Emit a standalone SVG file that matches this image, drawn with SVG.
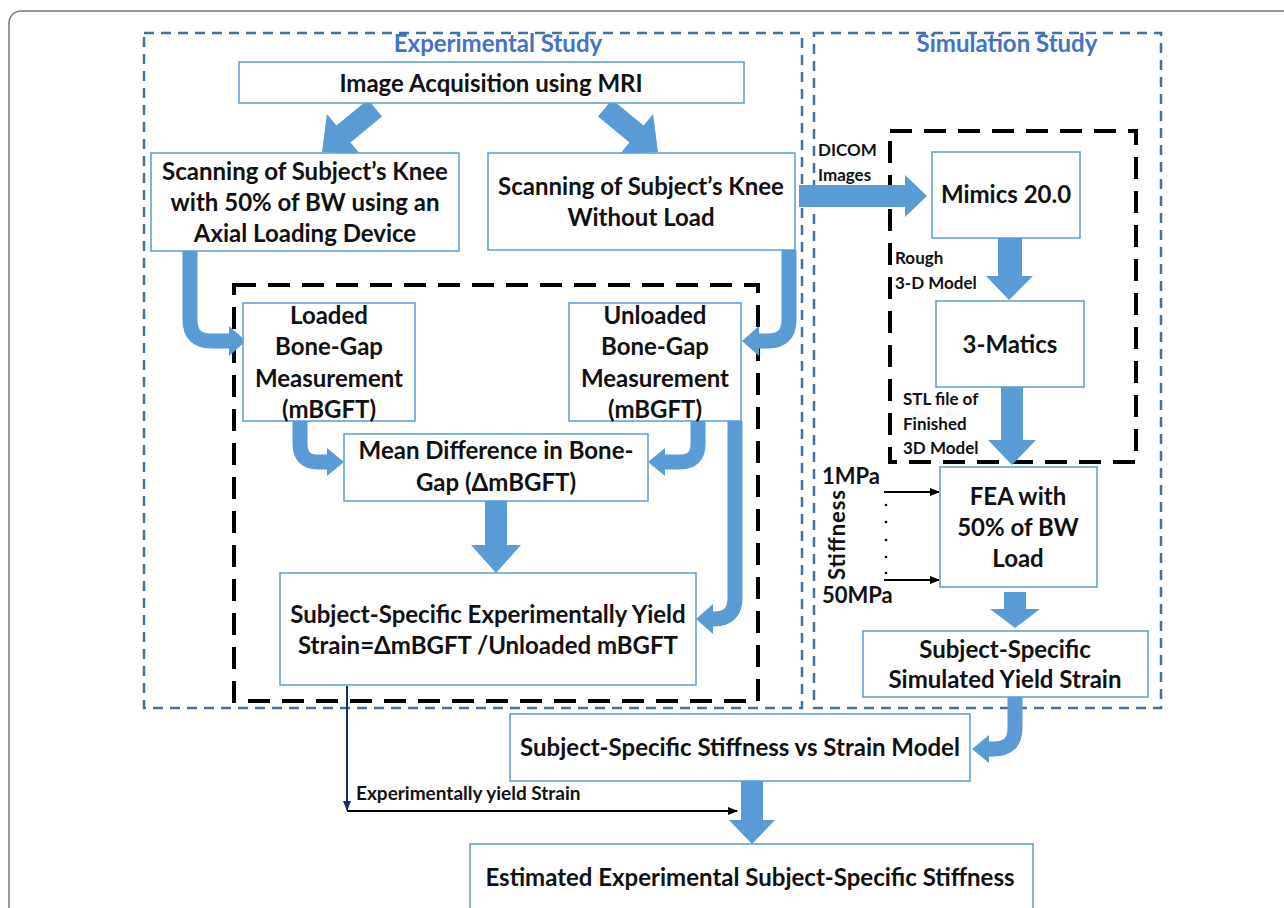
<svg xmlns="http://www.w3.org/2000/svg" width="1284" height="908" viewBox="0 0 1284 908">
<defs>
<style>
.box{fill:#fff;stroke:#5b9bd5;stroke-width:1.5}
.t{font-family:Lato,"Liberation Sans",sans-serif;font-weight:700;font-size:24px;fill:#111;text-anchor:middle}
.s{font-family:Lato,"Liberation Sans",sans-serif;font-weight:700;font-size:17px;fill:#111}
.big{font-size:22px}
.lab{font-size:19px}
.title{font-family:Lato,"Liberation Sans",sans-serif;font-weight:700;font-size:24px;fill:#4472c4;text-anchor:middle}
.bd{fill:none;stroke:#41719c;stroke-width:2.5;stroke-dasharray:10 7}
.kd{fill:none;stroke:#000;stroke-width:4;stroke-dasharray:22 12}
.ar{fill:#5b9bd5}
.cv{fill:none;stroke:#5b9bd5;stroke-width:15}
.thin{fill:none;stroke:#000;stroke-width:2}
</style>
<marker id="ah" markerWidth="10" markerHeight="8" refX="9" refY="4" orient="auto" markerUnits="userSpaceOnUse">
<path d="M0,0 L10,4 L0,8 z" fill="#000"/>
</marker>
<marker id="ahn" markerWidth="10" markerHeight="8" refX="9" refY="4" orient="auto" markerUnits="userSpaceOnUse">
<path d="M0,0 L10,4 L0,8 z" fill="#1a2a6c"/>
</marker>
</defs>
<rect x="0" y="0" width="1284" height="908" fill="#fff"/>
<rect x="9" y="11" width="1300" height="930" rx="12" fill="none" stroke="#777" stroke-width="1.5"/>

<g id="frames">
<rect class="bd" x="144" y="33" width="658" height="675"/>
<rect class="bd" x="814" y="33" width="347" height="675"/>
<rect class="kd" x="234" y="285" width="524" height="416"/>
<rect class="kd" x="890" y="131" width="246" height="331"/>
<text class="title" x="498" y="52">Experimental Study</text>
<text class="title" x="1007" y="52">Simulation Study</text>
</g>

<g id="connectors">
<polygon class="ar" points="368,99.5 336.5,125.6 326.9,114.1 322,152 360.1,154.1 350.5,142.6 382,116.5"/>
<polygon class="ar" points="612,99.5 643.5,125.6 653.1,114.1 658,152 619.9,154.1 629.5,142.6 598,116.5"/>
<path class="cv" d="M190,251 V320 Q190,341 211,341 H230"/>
<polygon class="ar" points="229,326 246,341 229,356"/>
<path class="cv" d="M789,250 V320 Q789,341 768,341 H758"/>
<polygon class="ar" points="759,326 742,341 759,356"/>
<path class="cv" d="M300,421 V444 Q300,462 318,462 H328"/>
<polygon class="ar" points="327,448 344,462 327,476"/>
<path class="cv" d="M698,421 V444 Q698,462 680,462 H664"/>
<polygon class="ar" points="665,448 648,462 665,476"/>
<path class="cv" d="M735,421 V598 Q735,619 714,619 H712"/>
<polygon class="ar" points="713,604 696,619 713,634"/>
<path class="cv" d="M1015,697 V728 Q1015,749 994,749 H988"/>
<polygon class="ar" points="989,735 972,749 989,763"/>
<polygon class="ar" points="485,501 507,501 507,545 521,545 496,573 471,545 485,545"/>
<polygon class="ar" points="741,781 763,781 763,820 775,820 752,844 729,820 741,820"/>
<polygon class="ar" points="799,185 905,185 905,175 927,196 905,217 905,207 799,207"/>
<polygon class="ar" points="998,238 1022,238 1022,276 1033,276 1009,300 986,276 998,276"/>
<polygon class="ar" points="1001,387 1023,387 1023,440 1036,440 1012,465 988,440 1001,440"/>
<polygon class="ar" points="1004,592 1026,592 1026,609 1040,609 1015,628 990,609 1004,609"/>
<line class="thin" x1="884" y1="492" x2="939" y2="492" marker-end="url(#ah)"/>
<line class="thin" x1="884" y1="580" x2="939" y2="580" marker-end="url(#ah)"/>
<g fill="#000">
<circle cx="886" cy="505" r="1.3"/><circle cx="886" cy="522" r="1.3"/><circle cx="886" cy="540" r="1.3"/><circle cx="886" cy="557" r="1.3"/><circle cx="886" cy="573" r="1.3"/>
</g>
<line x1="347" y1="686" x2="347" y2="810" stroke="#1a2a6c" stroke-width="2" marker-end="url(#ahn)"/>
<line class="thin" x1="347" y1="811" x2="737" y2="811" marker-end="url(#ah)"/>
<text class="s lab" x="356" y="800">Experimentally yield Strain</text>
<text class="s" x="818" y="156">DICOM</text>
<text class="s" x="818" y="181">Images</text>
<text class="s" x="895" y="264">Rough</text>
<text class="s" x="895" y="289">3-D Model</text>
<text class="s" x="903" y="405">STL file of</text>
<text class="s" x="903" y="430">Finished</text>
<text class="s" x="903" y="454">3D Model</text>
<text class="s big" x="822" y="484">1MPa</text>
<text class="s big" x="822" y="603">50MPa</text>
<text class="t" style="font-size:22px" transform="translate(845,535) rotate(-90)" x="0" y="0" textLength="90">Stiffness</text>
</g>

<g id="n-image">
<rect class="box" x="239" y="62" width="505" height="41"/>
<text class="t" x="491" y="92">Image Acquisition using MRI</text>
</g>
<g id="n-scan-loaded">
<rect class="box" x="151" y="153" width="308" height="98"/>
<text class="t" x="305" y="180">Scanning of Subject’s Knee</text>
<text class="t" x="305" y="211">with 50% of BW using an</text>
<text class="t" x="305" y="242">Axial Loading Device</text>
</g>
<g id="n-scan-unloaded">
<rect class="box" x="488" y="153" width="307" height="97"/>
<text class="t" x="641" y="195">Scanning of Subject’s Knee</text>
<text class="t" x="641" y="226">Without Load</text>
</g>
<g id="n-loaded">
<rect class="box" x="243" y="303" width="172" height="118"/>
<text class="t" x="329" y="324">Loaded</text>
<text class="t" x="329" y="355">Bone-Gap</text>
<text class="t" x="329" y="387">Measurement</text>
<text class="t" x="329" y="418">(mBGFT)</text>
</g>
<g id="n-unloaded">
<rect class="box" x="569" y="303" width="172" height="118"/>
<text class="t" x="655" y="324">Unloaded</text>
<text class="t" x="655" y="355">Bone-Gap</text>
<text class="t" x="655" y="387">Measurement</text>
<text class="t" x="655" y="418">(mBGFT)</text>
</g>
<g id="n-mean">
<rect class="box" x="344" y="434" width="304" height="67"/>
<text class="t" x="496" y="459">Mean Difference in Bone-</text>
<text class="t" x="496" y="491">Gap (ΔmBGFT)</text>
</g>
<g id="n-exp-strain">
<rect class="box" x="280" y="573" width="416" height="112"/>
<text class="t" x="488" y="623">Subject-Specific Experimentally Yield</text>
<text class="t" x="488" y="654">Strain=ΔmBGFT /Unloaded mBGFT</text>
</g>
<g id="n-mimics">
<rect class="box" x="932" y="152" width="148" height="86"/>
<text class="t" x="1006" y="203">Mimics 20.0</text>
</g>
<g id="n-3matics">
<rect class="box" x="936" y="301" width="148" height="86"/>
<text class="t" x="1010" y="353">3-Matics</text>
</g>
<g id="n-fea">
<rect class="box" x="940" y="467" width="157" height="120"/>
<text class="t" x="1018" y="505">FEA with</text>
<text class="t" x="1018" y="536">50% of BW</text>
<text class="t" x="1018" y="567">Load</text>
</g>
<g id="n-sim-strain">
<rect class="box" x="863" y="631" width="285" height="66"/>
<text class="t" x="1005" y="658">Subject-Specific</text>
<text class="t" x="1005" y="688">Simulated Yield Strain</text>
</g>
<g id="n-model">
<rect class="box" x="510" y="714" width="460" height="67"/>
<text class="t" x="740" y="756">Subject-Specific Stiffness vs Strain Model</text>
</g>
<g id="n-estimated">
<rect class="box" x="470" y="844" width="563" height="80"/>
<text class="t" x="750" y="886">Estimated Experimental Subject-Specific Stiffness</text>
</g>
</svg>
